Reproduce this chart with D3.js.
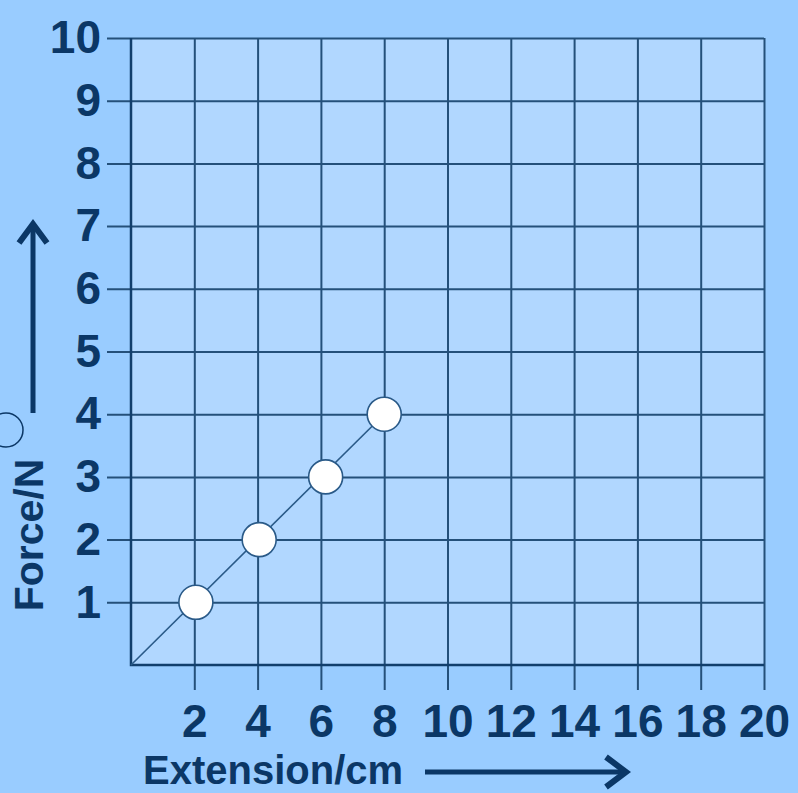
<!DOCTYPE html>
<html>
<head>
<meta charset="utf-8">
<script src="https://cdn.jsdelivr.net/npm/d3@7"></script>
<style>
  body { margin: 0; background: #99ccff; }
  text { font-family: "Liberation Sans", Arial, sans-serif; font-weight: bold; fill: #0b3766; }
</style>
</head>
<body>
<svg id="chart" width="798" height="793"></svg>
<script>
// readings
const extension = [2.05, 4.05, 6.15, 8]
const force = [1, 2, 3, 4]
const fitX = [0, 8]
const fitY = [0, 4]
const xTicks = [2, 4, 6, 8, 10, 12, 14, 16, 18, 20]
const yTicks = [1, 2, 3, 4, 5, 6, 7, 8, 9, 10]
const xLabel = "Extension/cm"
const yLabel = "Force/N"

const plotLeft = 131, plotRight = 764, plotTop = 38, plotBottom = 665
const gridColor = "#24507a"
const inkColor = "#0b3766"

const svg = d3.select("#chart")

const x = d3.scaleLinear().domain([0, 20]).range([plotLeft, plotRight])
const y = d3.scaleLinear().domain([0, 10]).range([plotBottom, plotTop])

// plot area
svg.append("rect")
    .attr("x", plotLeft)
    .attr("y", plotTop)
    .attr("width", plotRight - plotLeft)
    .attr("height", plotBottom - plotTop)
    .attr("fill", "#b1d7ff")

// x axis + vertical grid
let xAxis = svg.append("g")
    .attr("transform", "translate(0," + plotBottom + ")")
    .call(d3.axisBottom(x).tickValues(xTicks).tickSize(25).tickPadding(14).tickSizeOuter(0))
xAxis.select(".domain").remove()
xAxis.selectAll(".tick line")
    .attr("y1", -(plotBottom - plotTop))
    .attr("stroke", gridColor)
    .attr("stroke-width", 2)
xAxis.selectAll(".tick text")
    .style("font-size", "46px")
    .attr("fill", inkColor)

// y axis + horizontal grid
let yAxis = svg.append("g")
    .attr("transform", "translate(" + plotLeft + ",0)")
    .call(d3.axisLeft(y).tickValues(yTicks).tickSize(24).tickPadding(6).tickSizeOuter(0))
yAxis.select(".domain").remove()
yAxis.selectAll(".tick line")
    .attr("x1", plotRight - plotLeft)
    .attr("stroke", gridColor)
    .attr("stroke-width", 2)
yAxis.selectAll(".tick text")
    .style("font-size", "46px")
    .attr("fill", inkColor)

// left and bottom border
svg.append("path")
    .attr("d", "M" + plotLeft + "," + plotTop + "V" + plotBottom + "H" + plotRight)
    .attr("fill", "none")
    .attr("stroke", "#123f6c")
    .attr("stroke-width", 2.5)

// line of best fit
let fit = fitX.map((d, i) => ({x: d, y: fitY[i]}))
svg.append("path")
    .datum(fit)
    .attr("d", d3.line().x(d => x(d.x)).y(d => y(d.y)))
    .attr("fill", "none")
    .attr("stroke", "#2a5a88")
    .attr("stroke-width", 1.6)

// data points
let pts = extension.map((d, i) => ({x: d, y: force[i]}))
svg.selectAll("circle.pt")
    .data(pts)
    .enter().append("circle")
    .attr("class", "pt")
    .attr("cx", d => x(d.x))
    .attr("cy", d => y(d.y))
    .attr("r", 17)
    .attr("fill", "#ffffff")
    .attr("stroke", "#2a5a88")
    .attr("stroke-width", 1.6)

// axis titles with arrows
svg.append("text")
    .attr("x", 143)
    .attr("y", 784)
    .style("font-size", "40px")
    .text(xLabel)

svg.append("line")
    .attr("x1", 425).attr("y1", 772)
    .attr("x2", 624).attr("y2", 772)
    .attr("stroke", inkColor)
    .attr("stroke-width", 5)
svg.append("polyline")
    .attr("points", "606,757 626,772 606,787")
    .attr("fill", "none")
    .attr("stroke", inkColor)
    .attr("stroke-width", 6)

svg.append("text")
    .attr("transform", "translate(43,535) rotate(-90)")
    .attr("text-anchor", "middle")
    .style("font-size", "41px")
    .text(yLabel)

svg.append("line")
    .attr("x1", 33).attr("y1", 413)
    .attr("x2", 33).attr("y2", 226)
    .attr("stroke", inkColor)
    .attr("stroke-width", 5)
svg.append("polyline")
    .attr("points", "19,243 33,224 47,243")
    .attr("fill", "none")
    .attr("stroke", inkColor)
    .attr("stroke-width", 6)

// little cut-off ring at the left edge
svg.append("circle")
    .attr("cx", 6)
    .attr("cy", 430)
    .attr("r", 17)
    .attr("fill", "none")
    .attr("stroke", inkColor)
    .attr("stroke-width", 1.5)
</script>
</body>
</html>
